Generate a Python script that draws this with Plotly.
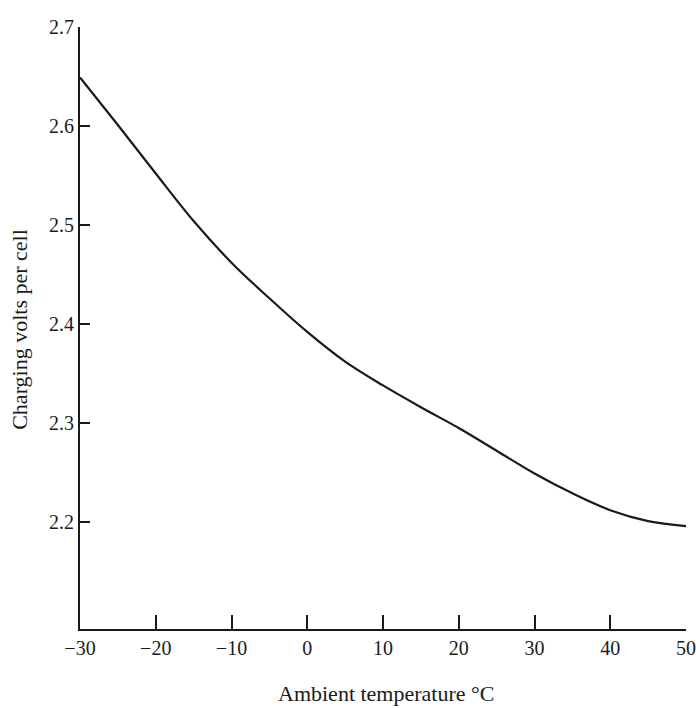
import plotly.graph_objects as go

temperature_c = [-30, -25, -20, -15, -10, -5, 0, 5, 10, 15, 20, 25, 30, 35, 40, 45, 50]
volts_per_cell = [2.649, 2.601, 2.552, 2.504, 2.462, 2.426, 2.392, 2.362, 2.338, 2.316, 2.295, 2.272, 2.249, 2.229, 2.212, 2.201, 2.196]

x_ticks = [-30, -20, -10, 0, 10, 20, 30, 40, 50]
x_tick_labels = ["\u221230", "\u221220", "\u221210", "0", "10", "20", "30", "40", "50"]
y_ticks = [2.2, 2.3, 2.4, 2.5, 2.6, 2.7]
y_tick_labels = ["2.2", "2.3", "2.4", "2.5", "2.6", "2.7"]
x_title = "Ambient temperature \u00b0C"
y_title = "Charging volts per cell"

font_family = "Liberation Serif, DejaVu Serif, serif"
ink = "#1a1a1a"

fig = go.Figure()
fig.add_trace(go.Scatter(
    x=temperature_c, y=volts_per_cell, mode="lines",
    line=dict(color=ink, width=2.2, shape="spline", smoothing=1.0),
    showlegend=False, hoverinfo="skip",
))

fig.update_layout(
    width=696, height=708,
    margin=dict(l=80, r=10, t=27, b=79),
    paper_bgcolor="white", plot_bgcolor="white",
    font=dict(family=font_family, size=20, color=ink),
    xaxis=dict(
        range=[-30, 50], tickvals=x_ticks, ticktext=x_tick_labels,
        ticks="inside", ticklen=14, tickwidth=1.5, tickcolor=ink,
        showline=True, linecolor=ink, linewidth=2,
        showgrid=False, zeroline=False, automargin=False,
        tickfont=dict(family=font_family, size=20),
    ),
    yaxis=dict(
        range=[2.092, 2.7], tickvals=y_ticks, ticktext=y_tick_labels,
        ticks="inside", ticklen=10, tickwidth=1.5, tickcolor=ink,
        showline=True, linecolor=ink, linewidth=2,
        showgrid=False, zeroline=False, automargin=False,
        tickfont=dict(family=font_family, size=20),
    ),
    annotations=[
        dict(text=x_title, xref="paper", yref="paper", x=0.505, y=-0.1305,
             xanchor="center", yanchor="bottom", showarrow=False,
             font=dict(family=font_family, size=22, color=ink)),
        dict(text=y_title, xref="paper", yref="paper", x=-0.099, y=0.497,
             xanchor="center", yanchor="middle", textangle=-90, showarrow=False,
             font=dict(family=font_family, size=22, color=ink)),
    ],
)

fig.write_html(
    "out.html",
    config={"displayModeBar": False},
    post_script="document.body.style.margin='0';document.body.style.overflow='hidden';",
)
